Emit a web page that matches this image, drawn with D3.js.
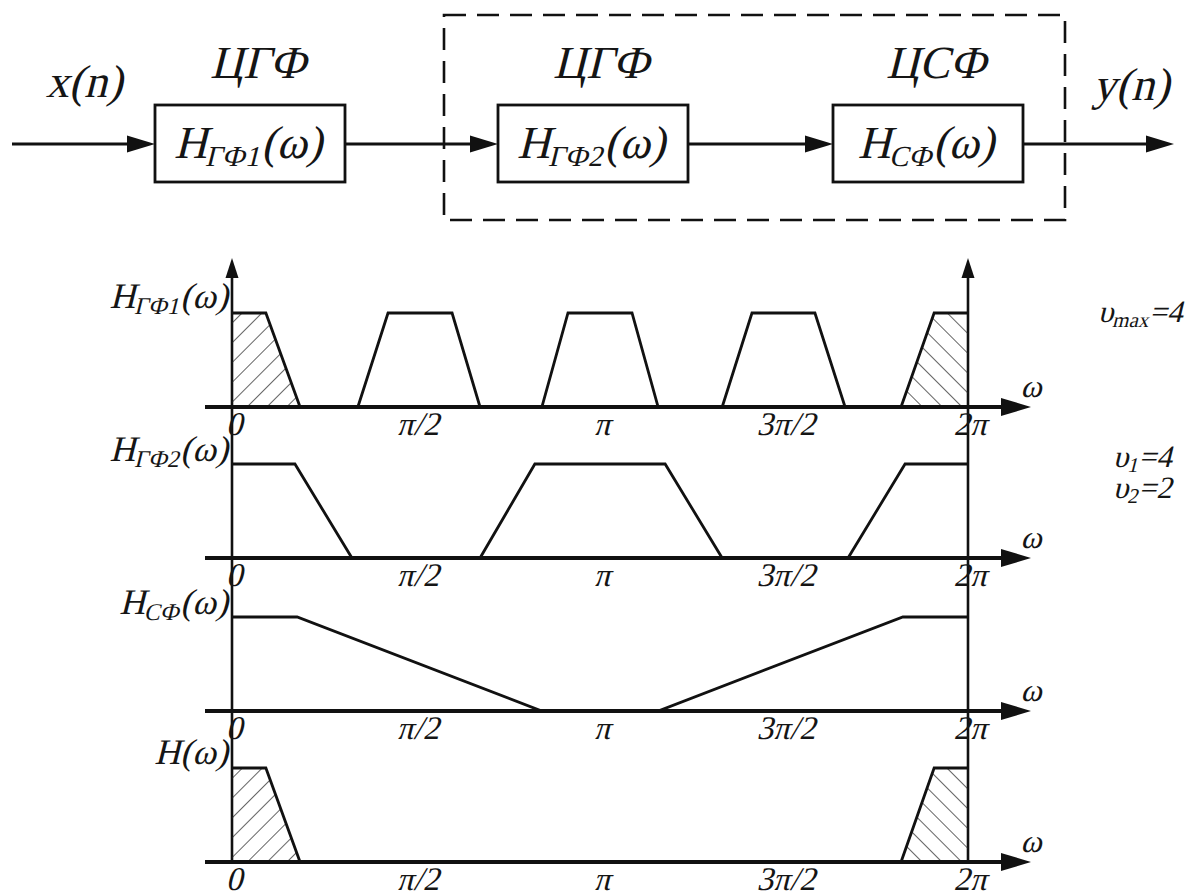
<!DOCTYPE html>
<html><head><meta charset="utf-8">
<script src="https://cdn.jsdelivr.net/npm/d3@7"></script>
<style>
body{margin:0;background:#fff}
</style>
</head><body>
<svg id="c" width="1202" height="896"></svg>
<script>
// ---------- data (frequency in units of π, magnitude normalised 0..1) ----------
const tickValues = [0, 0.5, 1, 1.5, 2];
const tickLabels = ["0", "π/2", "π", "3π/2", "2π"];
const hGF1 = [[0,1],[0.092,1],[0.185,0],[0.342,0],[0.424,1],[0.598,1],[0.674,0],[0.842,0],[0.913,1],[1.087,1],[1.158,0],[1.332,0],[1.413,1],[1.584,1],[1.666,0],[1.818,0],[1.908,1],[2,1]];
const hGF2 = [[0,1],[0.171,1],[0.326,0],[0.674,0],[0.823,1],[1.177,1],[1.332,0],[1.674,0],[1.829,1],[2,1]];
const hSF  = [[0,1],[0.177,1],[0.842,0],[1.158,0],[1.823,1],[2,1]];
const hOut = [[0,1],[0.092,1],[0.185,0],[1.818,0],[1.908,1],[2,1]];
const hatchLeft  = [[0,1],[0.092,1],[0.185,0]];
const hatchRight = [[1.818,0],[1.908,1],[2,1]];
const panelSubs = ["ГФ1", "ГФ2", "СФ", ""];
const blockTitles = ["ЦГФ", "ЦГФ", "ЦСФ"];
const blockSubs = ["ГФ1", "ГФ2", "СФ"];
const sideNotes = [{v:"υ", s:"max", r:"=4"}, {v:"υ", s:"1", r:"=4"}, {v:"υ", s:"2", r:"=2"}];

// ---------- text helper: upright face, slanted by a skew ----------
const FONT = "'Liberation Serif', Tinos, 'Times New Roman', 'DejaVu Serif', serif";
const svg = d3.select("#c");
function txt(g, x0, y0){
  return g.append("text").attr("transform", `translate(${x0},${y0}) skewX(-14)`)
    .style("font-family", FONT).style("font-style","normal").attr("fill","#151515");
}
const defs = svg.append("defs");
function hatch(id, angle){
  const p = defs.append("pattern").attr("id", id).attr("patternUnits","userSpaceOnUse")
    .attr("width", 14).attr("height", 14).attr("patternTransform", `rotate(${angle})`);
  p.append("line").attr("x1",0).attr("y1",0).attr("x2",0).attr("y2",14)
    .attr("stroke","#222").attr("stroke-width",1.4);
}
hatch("hl", 45);
hatch("hr", -45);

const x = d3.scaleLinear().domain([0, 2]).range([232, 968]);
const baselines = [407, 558, 711, 862];
const panelH = 94;
const panels = [
  {data: hGF1, hatch: true},
  {data: hGF2, hatch: false},
  {data: hSF,  hatch: false},
  {data: hOut, hatch: true}
];

function arrowHead(g, tipX, tipY, dir, len, half){
  let pts;
  if (dir === "right") pts = [[tipX,tipY],[tipX-len,tipY-half],[tipX-len,tipY+half]];
  else pts = [[tipX,tipY],[tipX-half,tipY+len],[tipX+half,tipY+len]];
  g.append("polygon").attr("points", pts.map(p=>p.join(",")).join(" ")).attr("fill","#111");
}

const plots = svg.append("g");

[0, 2].forEach(v => {
  plots.append("line").attr("x1", x(v)).attr("x2", x(v)).attr("y1", 270).attr("y2", baselines[3])
    .attr("stroke","#111").attr("stroke-width",2.6);
  arrowHead(plots, x(v), 258, "up", 20, 6.5);
});

panels.forEach((p, i) => {
  const b = baselines[i];
  const y = d3.scaleLinear().domain([0, 1]).range([b, b - panelH]);
  const g = plots.append("g");
  if (p.hatch) {
    const area = d3.area().x(d => x(d[0])).y0(b).y1(d => y(d[1]));
    g.append("path").attr("d", area(hatchLeft)).attr("fill","url(#hl)");
    g.append("path").attr("d", area(hatchRight)).attr("fill","url(#hr)");
  }
  const line = d3.line().x(d => x(d[0])).y(d => y(d[1]));
  g.append("path").attr("d", line(p.data)).attr("fill","none")
    .attr("stroke","#111").attr("stroke-width",2.8).attr("stroke-linejoin","miter");
  g.append("line").attr("x1",205).attr("x2",1004).attr("y1",b).attr("y2",b)
    .attr("stroke","#111").attr("stroke-width",4);
  arrowHead(g, 1031, b, "right", 30, 9);
  txt(g, 1031, b-10).attr("text-anchor","middle").attr("font-size",32).text("ω");
  tickValues.forEach((d,k) => {
    txt(g, x(d) + 2, b + 28).attr("text-anchor","middle").attr("font-size",33).text(tickLabels[k]);
  });
  const lab = txt(g, 228, [308,461,614,764][i]).attr("text-anchor","end").attr("font-size",36);
  lab.append("tspan").text("H");
  if (panelSubs[i]) {
    lab.append("tspan").attr("font-size",24).attr("dy",6).text(panelSubs[i]);
    lab.append("tspan").attr("dy",-6).text("(ω)");
  } else {
    lab.append("tspan").text("(ω)");
  }
});

const noteY = [322, 467, 498];
const noteX = [1098, 1113, 1113];
sideNotes.forEach((n, i) => {
  const t = txt(svg, noteX[i], noteY[i]).attr("font-size",31);
  t.append("tspan").text(n.v);
  t.append("tspan").attr("font-size",21).attr("dy",5).text(n.s);
  t.append("tspan").attr("dy",-5).text(n.r);
});

// ---------- block diagram ----------
const bd = svg.append("g");
const boxX = [155, 498, 833], boxW = 190, boxY = 105, boxH = 77, lineY = 144;
bd.append("rect").attr("x",444).attr("y",15).attr("width",621).attr("height",205)
  .attr("fill","none").attr("stroke","#111").attr("stroke-width",2.6).attr("stroke-dasharray","22,11");
const conns = [[12, boxX[0]], [boxX[0]+boxW, boxX[1]], [boxX[1]+boxW, boxX[2]], [boxX[2]+boxW, 1174]];
conns.forEach(c => {
  bd.append("line").attr("x1",c[0]).attr("x2",c[1]-20).attr("y1",lineY).attr("y2",lineY)
    .attr("stroke","#111").attr("stroke-width",2.8);
  arrowHead(bd, c[1], lineY, "right", 28, 8.5);
});
blockTitles.forEach((t, i) => {
  bd.append("rect").attr("x",boxX[i]).attr("y",boxY).attr("width",boxW).attr("height",boxH)
    .attr("fill","#fff").attr("stroke","#111").attr("stroke-width",2.8);
  txt(bd, boxX[i]+boxW/2+8, 78).attr("text-anchor","middle").attr("font-size",46).text(t);
  const tx = txt(bd, boxX[i]+boxW/2-2, 158).attr("text-anchor","middle").attr("font-size",46);
  tx.append("tspan").text("H");
  tx.append("tspan").attr("font-size",29).attr("dy",8).text(blockSubs[i]);
  tx.append("tspan").attr("dy",-8).text("(ω)");
});
txt(bd, 84, 97).attr("text-anchor","middle").attr("font-size",46).text("x(n)");
txt(bd, 1131, 100).attr("text-anchor","middle").attr("font-size",46).text("y(n)");
</script>
</body></html>
